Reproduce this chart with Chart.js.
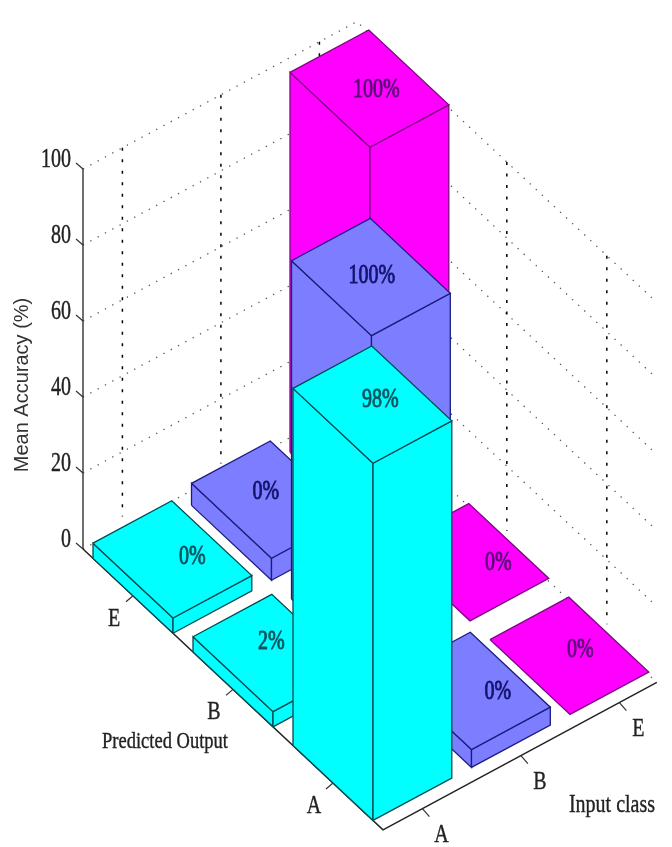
<!DOCTYPE html>
<html lang="en">
  <head>
    <meta charset="UTF-8" />
    <title>Mean Accuracy</title>
    <script src="https://cdn.jsdelivr.net/npm/chart.js@4"></script>
    <style>
      html, body { margin: 0; padding: 0; background: #fff; }
      canvas { display: block; filter: blur(0.5px); }
    </style>
  </head>
  <body>
    <canvas id="myChart" width="672" height="847"></canvas>
    <script>
      const inputClasses = ["A", "B", "E"];
      const predictedOutputs = ["E", "B", "A"];
      const zTicks = [0, 20, 40, 60, 80, 100];

      // column heights as drawn, per predicted output E, B, A
      const cyanHeights = [4, 4, 94];
      const purpleHeights = [5.8, 89, 4.7];
      const magentaHeights = [100, 0, 0];

      // percentages printed on the bars
      const cyanLabels = ["0%", "2%", "98%"];
      const purpleLabels = ["0%", "100%", "0%"];
      const magentaLabels = ["100%", "0%", "0%"];

      // oblique view: pixel vectors for one input class, one predicted class, one percent
      const origin = { x: 83, y: 549 };
      const uVec = { x: 98.5, y: -53 };
      const vVec = { x: 100, y: 93.6 };
      const zStep = 3.8;
      const iEnd = 2.78;

      function project(i, j, z) {
        return {
          x: origin.x + i * uVec.x + j * vVec.x,
          y: origin.y + i * uVec.y + j * vVec.y - z * zStep,
        };
      }

      const seriesStyle = [
        { fill: "#00ffff", edge: "#004a50", text: "#0b5560" },
        { fill: "#7d7dff", edge: "#1c1c80", text: "#14146e" },
        { fill: "#ff00ff", edge: "#7a0a80", text: "#5c0a78" },
      ];
      const heights = [cyanHeights, purpleHeights, magentaHeights];
      const labels = [cyanLabels, purpleLabels, magentaLabels];
      // small shifts of the printed text from the centre of each bar top
      const labelNudge = [
        [[20, -2], [-1, -11], [8, -5]],
        [[-5, -8], [1, -1], [27, 1]],
        [[7, 1], [29, 1], [11, -6]],
      ];

      const datasets = [];

      function addLine(points, color, width, dash) {
        datasets.push({
          data: points,
          showLine: true,
          fill: false,
          borderColor: color,
          borderWidth: width,
          borderDash: dash || [],
          pointRadius: 0,
          tension: 0,
        });
      }

      function addFace(points, style) {
        datasets.push({
          data: points.concat([points[0]]),
          showLine: true,
          fill: "shape",
          backgroundColor: style.fill,
          borderColor: style.edge,
          borderWidth: 1.3,
          pointRadius: 0,
          tension: 0,
        });
      }

      // back walls
      zTicks.forEach((z) => {
        addLine([project(0, 0, z), project(iEnd, 0, z), project(iEnd, 3, z)], "#555", 1.3, [1.3, 7]);
      });
      [0.4, 1.4, 2.4].forEach((i) => {
        addLine([project(i, 0, 100), project(i, 0, 3)], "#000", 1.5, [3, 8.5]);
      });
      [0.5, 1.5, 2.5].forEach((j) => {
        addLine([project(iEnd, j, 100), project(iEnd, j, 3)], "#000", 1.5, [3, 8.5]);
      });

      // axes and tick marks
      addLine([project(0, 0, 100), project(0, 0, 0)], "#333", 1.4);
      addLine([project(0, 0, 0), project(0, 3, 0), project(iEnd, 3, 0)], "#222", 1.5);
      zTicks.forEach((z) => {
        const p = project(0, 0, z);
        addLine([p, { x: p.x - 7, y: p.y - 6 }], "#333", 1.2);
      });
      predictedOutputs.forEach((_, j) => {
        const p = project(0, j + 0.5, 0);
        addLine([p, { x: p.x - 7, y: p.y + 6 }], "#333", 1.2);
      });
      inputClasses.forEach((_, i) => {
        const p = project(i + 0.4, 3, 0);
        addLine([p, { x: p.x + 7, y: p.y + 8 }], "#333", 1.2);
      });

      // bars, painted back to front
      const barCells = [];
      heights.forEach((row, i) => row.forEach((h, j) => barCells.push({ i, j, h })));
      barCells.sort((a, b) => a.j - a.i - (b.j - b.i));
      barCells.forEach(({ i, j, h }) => {
        const style = seriesStyle[i];
        const i0 = i, i1 = i + 0.8, j0 = j + 0.1, j1 = j + 0.9;
        if (h > 0) {
          addFace([project(i0, j0, 0), project(i0, j1, 0), project(i0, j1, h), project(i0, j0, h)], style);
          addFace([project(i0, j1, 0), project(i1, j1, 0), project(i1, j1, h), project(i0, j1, h)], style);
        }
        addFace([project(i0, j0, h), project(i0, j1, h), project(i1, j1, h), project(i1, j0, h)], style);
      });
      datasets.forEach((d, idx) => { d.order = -idx; });

      function stretchedText(ctx, text, x, y, font, color, stretch, align, heavy) {
        ctx.save();
        ctx.translate(x, y);
        ctx.scale(1, stretch);
        ctx.font = font;
        ctx.fillStyle = color;
        ctx.textAlign = align || "center";
        ctx.textBaseline = "middle";
        ctx.fillText(text, 0, 0);
        if (heavy) {
          ctx.strokeStyle = color;
          ctx.lineWidth = heavy;
          ctx.strokeText(text, 0, 0);
        }
        ctx.restore();
      }

      const textPlugin = {
        id: "textPlugin",
        afterDatasetsDraw(chart) {
          const ctx = chart.ctx;
          const sx = chart.scales.x, sy = chart.scales.y;
          const px = (p) => ({ x: sx.getPixelForValue(p.x), y: sy.getPixelForValue(p.y) });
          const serif = '20px "Liberation Serif"';
          const dark = "#222";

          zTicks.forEach((z) => {
            const p = px(project(0, 0, z));
            stretchedText(ctx, String(z), p.x - 12, p.y - 9, serif, dark, 1.35, "right", 0.3);
          });
          predictedOutputs.forEach((name, j) => {
            const p = px(project(0, j + 0.5, 0));
            stretchedText(ctx, name, p.x - 19, p.y + 23, serif, dark, 1.3, "center", 0.3);
          });
          inputClasses.forEach((name, i) => {
            const p = px(project(i + 0.4, 3, 0));
            stretchedText(ctx, name, p.x + 19, p.y + 27, serif, dark, 1.3, "center", 0.3);
          });
          stretchedText(ctx, "Predicted Output", 165, 742, '18.5px "Liberation Serif"', dark, 1.25, "center", 0.3);
          stretchedText(ctx, "Input class", 612, 805, '20px "Liberation Serif"', dark, 1.25, "center", 0.3);

          ctx.save();
          ctx.translate(22, 385);
          ctx.rotate(-Math.PI / 2);
          ctx.font = '20px "Liberation Sans"';
          ctx.fillStyle = "#333";
          ctx.textAlign = "center";
          ctx.textBaseline = "middle";
          ctx.fillText("Mean Accuracy (%)", 0, 0);
          ctx.restore();

          labels.forEach((row, i) => row.forEach((text, j) => {
            const p = px(project(i + 0.4, j + 0.5, heights[i][j]));
            const n = labelNudge[i][j];
            stretchedText(ctx, text, p.x + n[0], p.y + n[1], '20px "Liberation Serif"', seriesStyle[i].text, 1.35, "center", 0.7);
          }));
        },
      };

      new Chart(document.getElementById("myChart").getContext("2d"), {
        type: "scatter",
        data: { datasets },
        plugins: [textPlugin],
        options: {
          responsive: false,
          animation: false,
          events: [],
          layout: { padding: 0 },
          scales: {
            x: { type: "linear", display: false, min: 0, max: 672 },
            y: { type: "linear", display: false, min: 0, max: 847, reverse: true },
          },
          plugins: { legend: { display: false }, tooltip: { enabled: false } },
        },
      });
    </script>
  </body>
</html>
